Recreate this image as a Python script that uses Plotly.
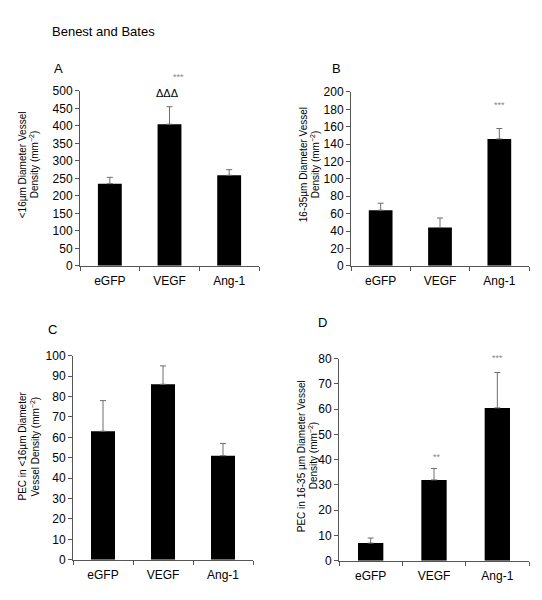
import plotly.graph_objects as go

categories = ["eGFP", "VEGF", "Ang-1"]

a_values = [235, 405, 259]
a_err_top = [253, 455, 275]
b_values = [64, 44, 146]
b_err_top = [72, 55, 158]
c_values = [63, 86, 51]
c_err_top = [78, 95, 57]
d_values = [7, 32, 60.5]
d_err_top = [9, 36.5, 74.5]

a_range = [0, 500]
b_range = [0, 200]
c_range = [0, 100]
d_range = [0, 80]
a_dtick, b_dtick, c_dtick, d_dtick = 50, 20, 10, 10

FONT = "Liberation Sans, Arial, Helvetica, sans-serif"
W, H = 542, 600

def px(x):
    return x / W

def py(y):
    return 1 - y / H

panels = [
    # values, err, range, dtick, xdomain(px), ydomain(px: bottom, top)
    (a_values, a_err_top, a_range, a_dtick, (80, 259), (265, 86)),
    (b_values, b_err_top, b_range, b_dtick, (351, 529), (265, 87)),
    (c_values, c_err_top, c_range, c_dtick, (73, 253), (566, 357)),
    (d_values, d_err_top, d_range, d_dtick, (339, 529), (567, 360)),
]

fig = go.Figure()
layout = dict(
    width=W, height=H, autosize=False,
    margin=dict(l=0, r=0, t=0, b=0),
    paper_bgcolor="white", plot_bgcolor="white",
    showlegend=False,
    font=dict(family=FONT, color="black", size=11),
)

for i, (vals, err, rng, dt, xd, yd) in enumerate(panels):
    n = "" if i == 0 else str(i + 1)
    fig.add_trace(go.Bar(
        x=categories, y=vals,
        xaxis="x" + n, yaxis="y" + n,
        width=0.4,
        marker=dict(color="black", line=dict(width=0)),
        error_y=dict(type="data", symmetric=False,
                     array=[e - v for e, v in zip(err, vals)],
                     arrayminus=[0, 0, 0],
                     color="#6e6e6e", thickness=1, width=3),
    ))
    layout["xaxis" + n] = dict(
        domain=[px(xd[0]), px(xd[1])], anchor="y" + n,
        type="category", showline=True, linecolor="#555", linewidth=1,
        ticks="outside", tickson="boundaries", ticklen=4, tickcolor="#555",
        showgrid=False, zeroline=False, ticklabelstandoff=4,
        tickfont=dict(size=12, family=FONT),
    )
    layout["yaxis" + n] = dict(
        domain=[py(yd[0]), py(yd[1])], anchor="x" + n,
        range=rng, dtick=dt, tick0=0,
        showline=True, linecolor="#555", linewidth=1,
        ticks="outside", ticklen=4, tickcolor="#555",
        showgrid=False, zeroline=False,
        tickfont=dict(size=12, family=FONT),
    )

fig.update_layout(**layout)

ann = []
def text(x, y, s, size=11, color="black", angle=0, xanchor="center", yanchor="middle", family=FONT):
    ann.append(dict(x=px(x), y=py(y), xref="paper", yref="paper", text=s,
                    showarrow=False, textangle=angle, xanchor=xanchor, yanchor=yanchor,
                    font=dict(size=size, color=color, family=family)))

text(50, 25, "Benest and Bates", size=13, xanchor="left")
text(52, 63, "A", size=13, xanchor="left")
text(330, 63, "B", size=13, xanchor="left")
text(46, 330, "C", size=13, xanchor="left")
text(316, 323, "D", size=13, xanchor="left")

# Y axis titles (two lines each)
TS = 10
text(22, 162, "&lt;16µm Diameter Vessel", size=TS, angle=-90)
text(34, 162, "Density (mm<sup>−2</sup>)", size=TS, angle=-90)
text(303, 162, "16-35µm Diameter Vessel", size=TS, angle=-90)
text(315, 162, "Density (mm<sup>−2</sup>)", size=TS, angle=-90)
text(22, 450, "PEC in &lt;16µm Diameter", size=TS, angle=-90)
text(34, 450, "Vessel Density (mm<sup>−2</sup>)", size=TS, angle=-90)
text(301, 460, "PEC in 16-35 µm Diameter Vessel", size=TS, angle=-90)
text(313, 460, "Density (mm<sup>−2</sup>)", size=TS, angle=-90)

# significance markers in data coordinates (anchored inside the axis range, shifted in px)
def mark(axis_n, cat, yval, s, size, color, xshift=0, yshift=0):
    ann.append(dict(x=cat, y=yval, xref="x" + axis_n, yref="y" + axis_n, text=s,
                    showarrow=False, xshift=xshift, yshift=yshift, yanchor="middle",
                    font=dict(size=size, color=color, family=FONT)))

mark("", categories[1], 494, "ΔΔΔ", 11, "black", -2)
mark("", categories[1], 500, "***", 9, "#888", 9, 14)
mark("2", categories[2], 185, "***", 9, "#888", 0)
mark("4", categories[1], 41, "**", 9, "#888", 3)
mark("4", categories[2], 80, "***", 9, "#888", 0, 1)

fig.update_layout(annotations=ann)
fig.write_html("out.html", config={"displayModeBar": False},
               post_script="document.body.style.margin='0';document.body.style.overflow='hidden';")
